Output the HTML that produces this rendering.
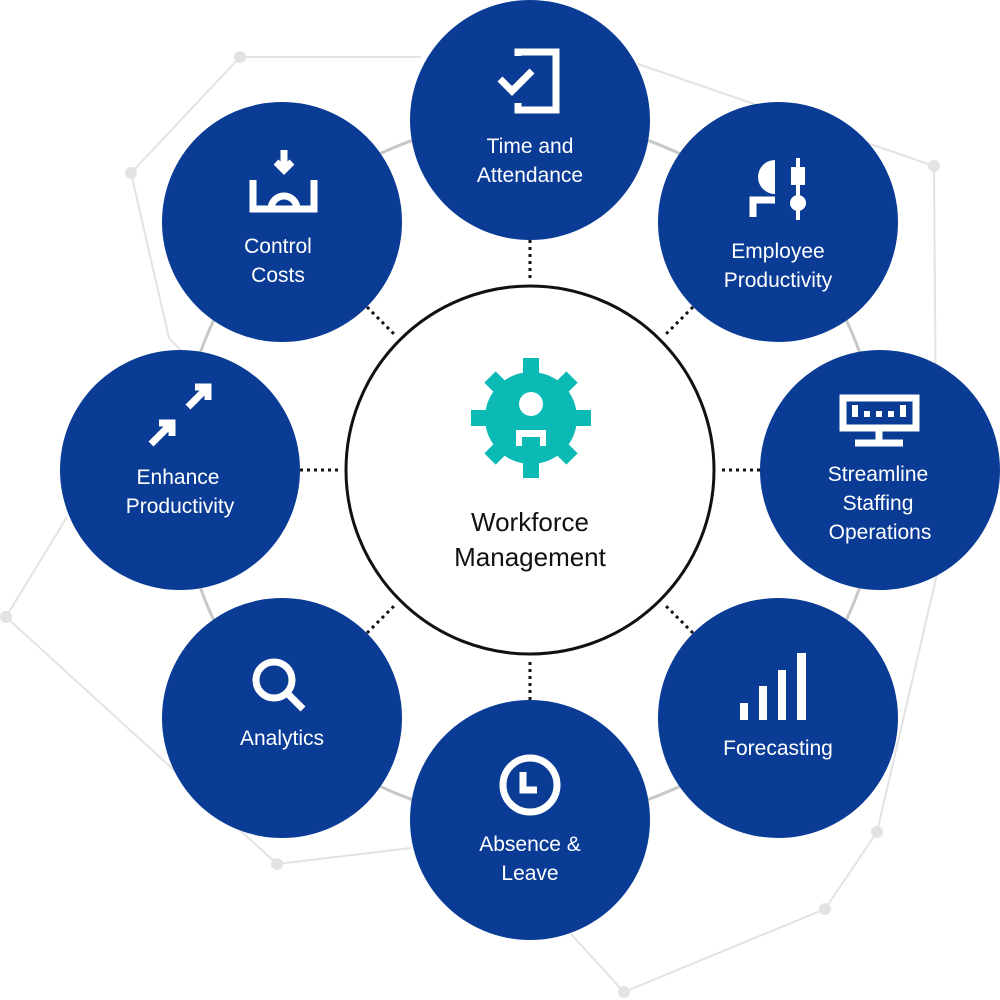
<!DOCTYPE html>
<html><head><meta charset="utf-8"><style>
html,body{margin:0;padding:0;background:#fff;}
svg{display:block;}
text{font-family:"Liberation Sans",sans-serif;}
</style></head><body>
<svg width="1000" height="1000" viewBox="0 0 1000 1000" xmlns="http://www.w3.org/2000/svg">
<g stroke="#e3e3e3" stroke-width="2" fill="none">
<polyline points="421,57 240,57 131,173 169,338 185,355"/>
<polyline points="67,517 6,617 277,864 411,848"/>
<polyline points="638,64 934,166 937,574 877,832 825,909 624,992 571,934"/>
</g>
<g fill="#e3e3e3">
<circle cx="240" cy="57" r="6"/><circle cx="131" cy="173" r="6"/><circle cx="6" cy="617" r="6"/>
<circle cx="277" cy="864" r="6"/><circle cx="934" cy="166" r="6"/><circle cx="877" cy="832" r="6"/>
<circle cx="825" cy="909" r="6"/><circle cx="624" cy="992" r="6"/>
</g>
<circle cx="530" cy="470" r="350" fill="none" stroke="#c8c8c8" stroke-width="3"/>
<g stroke="#111" stroke-width="3" stroke-dasharray="3 4">
<line x1="530" y1="240" x2="530" y2="278"/>
<line x1="530" y1="662" x2="530" y2="700"/>
<line x1="300" y1="470" x2="338" y2="470"/>
<line x1="722" y1="470" x2="760" y2="470"/>
<line x1="367" y1="307" x2="394" y2="334"/>
<line x1="693" y1="307" x2="666" y2="334"/>
<line x1="367" y1="633" x2="394" y2="606"/>
<line x1="693" y1="633" x2="666" y2="606"/>
</g>
<circle cx="530" cy="470" r="184" fill="#fff" stroke="#111" stroke-width="3"/>
<g fill="#0bb9b5" transform="translate(531,418)">
<circle r="46"/>
<rect x="-8" y="-60" width="16" height="120"/>
<rect x="-60" y="-8" width="120" height="16"/>
<rect x="-8" y="-58" width="16" height="116" transform="rotate(45)"/>
<rect x="-8" y="-58" width="16" height="116" transform="rotate(-45)"/>
</g>
<g fill="#fff" transform="translate(531,418)">
<circle cx="0" cy="-14" r="12"/>
<path d="M-15,28 V12 H15 V28 H9 V19 H-9 V28 Z"/>
</g>
<text x="530" y="531" font-size="26" text-anchor="middle" fill="#111">Workforce</text>
<text x="530" y="566" font-size="26" text-anchor="middle" fill="#111">Management</text>
<g fill="#0a3c96">
<circle cx="530" cy="120" r="120"/>
<circle cx="778" cy="222" r="120"/>
<circle cx="880" cy="470" r="120"/>
<circle cx="778" cy="718" r="120"/>
<circle cx="530" cy="820" r="120"/>
<circle cx="282" cy="718" r="120"/>
<circle cx="180" cy="470" r="120"/>
<circle cx="282" cy="222" r="120"/>
</g>
<g fill="#fff" font-size="21" text-anchor="middle">
<text x="530" y="153">Time and</text><text x="530" y="182">Attendance</text>
<text x="778" y="258">Employee</text><text x="778" y="287">Productivity</text>
<text x="878" y="481">Streamline</text><text x="878" y="510">Staffing</text><text x="880" y="539">Operations</text>
<text x="778" y="755">Forecasting</text>
<text x="530" y="851">Absence &amp;</text><text x="530" y="880">Leave</text>
<text x="282" y="745">Analytics</text>
<text x="178" y="484">Enhance</text><text x="180" y="513">Productivity</text>
<text x="278" y="253">Control</text><text x="278" y="282">Costs</text>
</g>
<g fill="none" stroke="#fff" stroke-width="7">
<path d="M518,56 V52 H556 V110 H518 V103"/>
<path d="M500,79 L512,91 L532,71"/>
<path d="M253,180 V209 H314 V180"/>
<path d="M271,209 A13,13 0 0 1 297,209"/>
<path d="M284,150 V170 M276,162 L284,170 L292,162"/>
<path d="M151,444 L172,423 M159,423 H172 V436"/>
<path d="M188,407 L208,387 M195,387 H208 V400"/>
<path d="M753,217 V200 H775"/>
<line x1="798" y1="158" x2="798" y2="220" stroke-width="4"/>
<rect x="843" y="398" width="73" height="30"/>
<line x1="879" y1="428" x2="879" y2="442"/>
<line x1="855" y1="443" x2="903" y2="443"/>
<circle cx="274" cy="680" r="18"/>
<line x1="287" y1="693" x2="303" y2="709"/>
<circle cx="530" cy="785" r="27"/>
<path d="M523,772 V790 H537"/>
</g>
<g fill="#fff">
<path d="M775,160 A17,17 0 0 0 775,194 Z"/>
<rect x="791" y="167" width="14" height="18"/>
<circle cx="798" cy="203" r="8"/>
<rect x="852" y="405" width="6" height="12"/><rect x="864" y="411" width="6" height="6"/><rect x="876" y="411" width="6" height="6"/><rect x="888" y="411" width="6" height="6"/><rect x="900" y="405" width="6" height="12"/>
<rect x="740" y="703" width="8" height="17"/>
<rect x="759" y="686" width="8" height="34"/>
<rect x="778" y="670" width="8" height="50"/>
<rect x="797" y="653" width="9" height="67"/>
</g>
</svg>
</body></html>
